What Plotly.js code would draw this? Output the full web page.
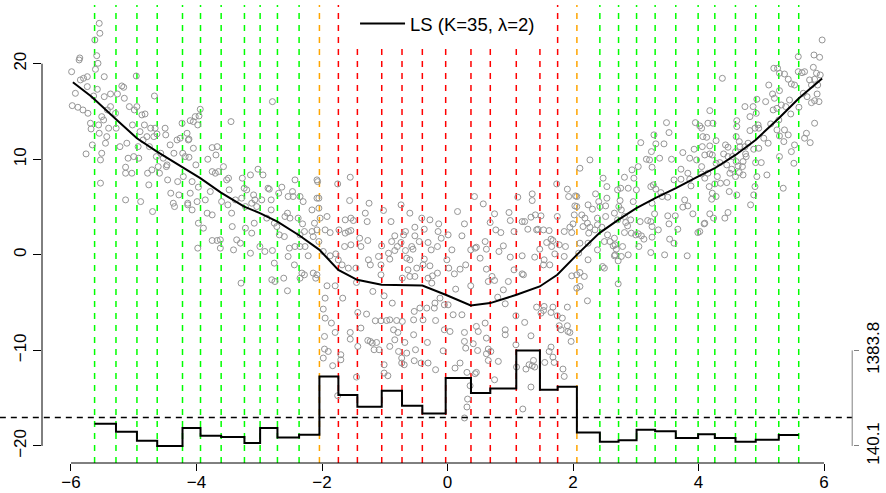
<!DOCTYPE html>
<html><head><meta charset="utf-8">
<script src="https://cdn.plot.ly/plotly-3.0.1.min.js"></script>
<style>html,body{margin:0;padding:0;background:#fff}#chart{width:886px;height:493px}</style>
</head><body><div id="chart"></div>
<script>
// ---- data ----
const scatterLeft = [[-5.99,19.16],[-5.87,20.39],[-5.86,20.6],[-5.98,15.61],[-5.93,16.9],[-5.89,15.44],[-5.85,18.30],[-5.81,15.16],[-5.80,18.47],[-5.76,10.56],[-5.74,17.60],[-5.73,14.81],[-5.74,18.64],[-5.69,13.77],[-5.68,13.17],[-5.66,11.50],[-5.64,16.62],[-5.62,22.48],[-5.61,19.41],[-5.59,20.84],[-5.57,20.04],[-5.58,17.32],[-5.55,24.22],[-5.54,23.18],[-5.56,13.59],[-5.55,12.72],[-5.53,9.93],[-5.53,7.50],[-5.51,14.46],[-5.51,10.63],[-5.47,18.64],[-5.47,16.55],[-5.48,14.11],[-5.45,11.68],[-5.43,12.37],[-5.42,15.16],[-5.40,13.25],[-5.37,16.83],[-5.37,15.51],[-5.29,14.81],[-5.28,13.25],[-5.26,16.83],[-5.22,11.32],[-5.19,17.67],[-5.16,17.53],[-5.15,16.38],[-5.13,9.17],[-5.13,8.54],[-5.13,5.75],[-5.11,11.68],[-5.09,10.11],[-5.07,15.51],[-5.03,8.54],[-5.02,13.59],[-5.00,10.28],[-4.99,15.16],[-4.96,18.71],[-4.95,15.51],[-4.93,11.32],[-4.92,10.11],[-4.90,12.89],[-4.89,5.57],[-4.87,14.64],[-4.85,12.02],[-4.83,13.59],[-4.82,14.74],[-4.79,12.37],[-4.78,8.54],[-4.76,7.32],[-4.75,11.32],[-4.73,13.25],[-4.71,8.89],[-4.70,4.53],[-4.68,12.37],[-4.67,16.62],[-4.66,13.25],[-4.64,10.28],[-4.63,12.65],[-4.61,9.23],[-4.59,8.54],[-4.57,10.63],[-4.53,10.11],[-4.50,13.25],[-4.49,12.55],[-4.48,9.23],[-4.47,9.41],[-4.46,7.84],[-4.42,11.50],[-4.41,6.45],[-4.37,5.40],[-4.35,5.05],[-4.36,10.63],[-4.31,12.02],[-4.30,7.66],[-4.28,6.27],[-4.26,12.20],[-4.23,13.77],[-4.22,10.63],[-4.21,8.19],[-4.18,10.28],[-4.15,12.72],[-4.14,5.40],[-4.13,12.02],
[-3.94,15.23],[-3.96,14.53],[-4.02,14.46],[-3.98,13.59],[-4.10,14.04],[-4.05,13.94],[-4.12,12.10],[-3.45,13.94],[-2.79,16.03],[-4.05,11.15],[-4.12,10.21],[-4.01,9.41],[-3.82,10.0],[-3.75,11.22],[-3.67,11.32],[-3.69,10.45],[-3.57,9.23],[-3.75,8.71],[-3.70,8.54],[-3.65,8.71],[-4.07,7.66],[-3.97,7.08],[-4.10,6.45],[-3.99,5.57],[-4.14,5.23],[-4.07,4.70],[-3.86,5.75],[-3.78,6.62],[-3.83,4.36],[-3.75,4.18],[-3.97,3.31],[-3.89,2.79],[-3.98,0.70],[-3.75,1.50],[-3.67,1.50],[-3.62,1.57],[-3.62,0.70],[-3.52,7.84],[-3.49,8.02],[-3.48,6.80],[-3.60,5.57],[-3.50,5.23],[-3.44,4.36],[-3.38,5.75],[-3.43,2.96],[-3.36,1.57],[-3.30,1.22],[-3.41,0.52],[-3.27,8.02],[-3.28,5.93],[-3.24,6.97],[-3.20,6.80],[-3.22,5.05],[-3.22,2.79],[-3.14,8.36],[-3.02,8.96],[-2.94,8.36],[-3.09,6.27],[-3.07,5.75],[-3.12,5.40],[-3.04,5.05],[-3.08,3.31],[-3.12,2.27],[-3.14,0.17],[-2.99,0.87],[-2.91,0.35],[-2.79,0.45],[-3.29,-2.96],[-2.96,5.75],[-2.86,6.97],[-2.84,6.87],[-2.81,5.75],[-2.81,4.70],[-2.88,3.84],[-2.76,3.31],[-2.69,6.45],[-2.64,7.08],[-2.72,2.96],[-2.80,-2.61],[-2.76,-0.87],[-2.75,-2.79],[-2.68,2.09],[-2.60,1.91],[-2.61,-2.44],[-2.55,-3.76],[-2.54,6.10],[-2.46,6.10],[-2.47,6.62],[-2.43,7.84],[-2.55,4.36],[-2.59,4.01],[-2.51,3.84],[-2.52,0.70],[-2.54,-0.17],[-2.44,-1.05],[-2.43,0.87],[-2.35,6.10],[-2.30,5.57],[-2.38,3.84],[-2.31,3.24],[-2.28,2.44],[-2.35,2.09],[-2.35,0.87],[-2.27,0.87],[-2.32,-1.91],[-2.28,-2.09],[-2.35,-2.44],[-2.22,-0.10],[-2.16,4.70],[-2.12,3.31],[-2.16,2.44],[-2.14,1.91],[-2.08,7.84],[-2.08,5.93],[-2.14,-1.91],[-2.10,-2.44]];

const scatterMid = [[-2.07,7.66],[-2.05,5.93],[-2.05,4.88],[-2.03,3.84],[-1.92,4.01],[-2.08,2.61],[-2.05,1.39],[-1.95,2.61],[-1.87,2.33],[-1.98,0.35],[-1.87,-0.10],[-1.78,0.10],[-1.75,7.42],[-1.55,8.12],[-1.56,5.68],[-1.63,3.66],[-1.54,3.84],[-1.50,3.59],[-1.58,2.44],[-1.54,2.54],[-1.73,2.61],[-1.63,2.27],[-1.64,0.87],[-1.54,1.05],[-1.74,-0.52],[-1.68,-1.05],[-1.58,-1.39],[-1.46,-1.39],[-2.08,-2.09],[-1.92,-3.24],[-1.79,-3.24],[-1.95,-4.53],[-1.98,-5.68],[-1.95,-6.62],[-1.85,-7.14],[-1.96,-8.54],[-1.79,-8.12],[-1.96,-9.86],[-1.90,-10.11],[-1.98,-10.80],[-1.83,-11.60],[-1.70,-10.45],[-1.70,-10.98],[-1.75,-14.74],[-1.45,-2.89],[-1.43,-6.03],[-1.55,-8.12],[-1.55,-8.82],[-1.43,-9.58],[-1.45,-12.79],[-1.67,-4.53],[-1.40,1.74],[-1.38,0.87],[-1.27,1.50],[-1.31,4.36],[-1.25,5.40],[-1.28,3.48],[-1.26,-0.52],[-1.23,-1.05],[-1.19,-3.83],[-1.29,-6.20],[-1.38,-7.66],[-1.27,-8.96],[-1.23,-9.06],[-1.20,-9.23],[-1.13,-9.17],[-1.17,-9.93],[-1.09,-9.93],[-1.15,-6.90],[-1.06,-6.90],[-0.97,-6.87],[-1.10,-0.17],[-1.06,-1.05],[-1.06,-2.09],[-1.05,0.94],[-1.02,4.64],[-0.90,3.48],[-0.94,0.17],[-0.92,-0.45],[-1.01,-4.29],[-0.88,-5.05],[-0.84,1.99],[-0.89,1.39],[-0.80,0.87],[-0.84,0.45],[-0.74,5.23],[-0.67,2.44],[-0.70,2.09],[-0.74,1.29],[-0.67,0.45],[-0.65,-0.35],[-0.60,-0.52],[-0.63,-1.57],[-0.72,-2.44],[-0.60,4.36],[-0.52,2.89],[-0.57,0.87],[-0.55,0.59],[-0.49,-1.39],[-0.60,-2.26],[-0.52,-2.26],[-0.86,-7.84],[-0.79,-8.12],[-0.92,-9.58],[-0.78,-10.11],[-0.73,-10.80],[-0.65,-10.28],[-0.73,-11.32],[-0.69,-11.50],[-1.01,-11.50],[-1.01,-12.37],[-0.95,-12.65],[-0.92,-6.80],[-0.72,-6.97],[-0.54,-6.80],[-0.39,-6.80],[-0.54,-8.36],[-0.51,-9.93],[-0.53,-11.08],[-0.42,-11.32],[-0.32,-9.17],[-0.31,-11.32],[-0.19,-12.02],[-0.07,-10.04],[-0.41,3.84],[-0.37,2.68],[-0.52,1.99],[-0.45,1.39],[-0.28,3.66],[-0.31,1.29],[-0.26,0.52],[-0.37,-0.45],[-0.39,-1.05],[-0.28,-1.15],[-0.31,-2.44],[-0.24,-2.20],[-0.25,-2.96],[-0.16,-1.91],[-0.14,3.24],[-0.15,2.44],[-0.10,1.74],[-0.16,0.87],[-0.20,-5.05],[-0.21,-5.57],[-0.12,-4.53],[-0.05,-5.23],[-0.19,-6.87],[-0.05,-7.84],[-0.33,-5.57],[-0.44,-5.57],[-0.53,-5.92],[-0.81,-6.87],[-0.84,-8.89],[-0.68,-9.17],
[0.01,2.09],[-0.01,-0.52],[0.02,-1.39],[0.07,0.52],[0.11,-1.99],[0.16,4.53],[0.20,-1.50],[0.23,1.99],[0.27,3.24],[0.29,-1.05],[0.13,-3.59],[0.37,-3.24],[0.37,0.52],[0.43,6.10],[0.44,0.70],[0.46,0.80],[0.52,-0.35],[0.57,5.33],[0.60,1.39],[0.62,0.59],[0.62,-1.50],[0.65,-2.79],[0.71,-2.26],[0.75,-2.68],[0.75,4.29],[0.77,2.61],[0.85,2.33],[0.82,0.35],[0.89,0.94],[0.68,3.38],[0.80,-4.43],[0.92,-5.12],[0.89,-3.66],[0.97,-2.79],[1.00,-0.24],[0.98,4.43],[1.00,3.59],[1.06,2.44],[1.06,-1.57],[1.19,-1.99],[1.21,-2.09],[1.19,-0.10],[1.12,6.03],[1.19,3.48],[1.23,3.48],[1.28,2.68],[1.33,3.94],[1.35,6.38],[1.35,5.68],[1.40,4.18],[1.42,2.61],[1.44,2.68],[1.39,-0.24],[1.49,4.08],[1.53,2.61],[1.54,-0.52],[1.47,0.59],[1.53,-1.05],[1.62,2.54],[1.58,1.29],[1.65,1.64],[1.68,1.50],[1.66,0.87],[1.63,-1.05],[1.71,0.10],[1.74,7.42],[1.75,4.01],[1.78,1.05],[1.86,2.44],[1.86,-0.17],[1.91,6.87],[1.93,6.10],[1.95,2.89],[1.98,2.33],[2.00,3.24],[1.98,-2.20],[1.88,0.87],[2.03,5.12],[2.02,4.18],[2.06,-2.09],[2.04,6.17],[2.06,-3.49],[0.01,-5.23],[0.04,-8.02],[0.09,-6.27],[0.23,-6.27],[0.27,-8.12],[0.27,-9.06],[0.29,-9.76],[0.20,-11.32],[0.12,-11.85],[0.31,-12.30],[0.36,-13.70],[0.32,-15.09],[0.31,-15.92],[0.27,-17.07],[0.41,-9.30],[0.46,-7.49],[0.49,-8.02],[0.48,-10.01],[0.46,-12.30],[0.44,-12.44],[0.60,-7.14],[0.62,-8.71],[0.65,-9.86],[0.69,-10.11],[0.62,-10.35],[0.65,-11.05],[0.81,-11.15],[0.75,-13.07],[0.92,-7.84],[0.92,-8.36],[1.09,-6.38],[1.09,-9.41],[1.10,-11.74],[1.20,-16.13],[1.23,-7.07],[1.25,-11.95],[1.33,-8.47],[1.37,-11.05],[1.35,-11.60],[1.39,-11.74],[1.30,-11.50],[1.33,-13.83],[1.42,-5.47],[1.49,-6.10],[1.54,-5.40],[1.53,-5.82],[1.65,-6.03],[1.68,-5.47],[1.65,-9.65],[1.62,-10.11],[1.68,-10.70],[1.70,-11.26],[1.55,-11.26],[1.75,-6.38],[1.78,-7.42],[1.81,-7.84],[1.91,-7.42],[1.83,-6.62],[1.91,-5.47],[1.92,-8.02],[1.95,-8.12],[1.97,-9.06],[1.84,-11.95],[1.86,-12.72]];

const scatterRight = [[2.27,9.93],[2.11,9.06],[2.06,6.10],[2.06,5.05],[2.14,4.18],[2.24,5.23],[2.31,4.78],[2.19,3.84],[2.23,3.31],[2.16,2.96],[2.27,2.89],[2.25,2.27],[2.11,1.22],[2.24,1.22],[2.09,0.17],[2.24,-0.52],[2.11,-1.85],[2.18,-2.26],[2.11,-3.31],[2.23,-4.81],[2.36,6.38],[2.41,5.57],[2.43,5.05],[2.39,3.84],[2.39,3.14],[2.35,2.61],[2.46,2.89],[2.54,5.93],[2.52,5.12],[2.48,8.02],[2.54,7.14],[2.52,4.01],[2.55,2.09],[2.50,1.39],[2.59,1.39],[2.39,0.52],[2.47,-1.22],[2.50,-1.39],[2.66,1.74],[2.64,0.94],[2.67,1.05],[2.69,0.59],[2.66,-0.10],[2.72,-0.63],[2.72,-3.03],[2.66,4.36],[2.71,3.66],[2.73,5.05],[2.77,4.70],[2.71,6.80],[2.75,5.68],[2.76,6.97],[2.82,8.12],[2.88,6.97],[2.82,4.01],[2.84,3.38],[2.82,2.33],[2.87,3.03],[2.92,3.66],[2.93,2.27],[2.88,0],[2.94,8.89],[2.97,8.02],[3.01,6.80],[3.04,9.23],[3.00,2.09],[3.04,2.20],[3.09,1.99],[2.96,5.57],[3.07,3.48],[3.05,0.87],[3.13,1.64],[3.08,11.74],[3.17,10.0],[3.22,9.93],[3.25,10.80],[3.26,9.17],[3.29,12.55],[3.32,11.61],[3.38,10.11],[3.28,7.32],[3.24,7.14],[3.32,6.87],[3.26,5.40],[3.19,3.59],[3.24,3.48],[3.30,4.29],[3.26,2.96],[3.36,2.61],[3.26,1.85],[3.24,0.24],[3.46,0],[3.45,11.61],[3.49,13.83],[3.53,12.79],[3.40,6.51],[3.42,6.10],[3.51,6.03],[3.51,4.08],[3.57,10.0],[3.61,7.84],[3.72,8.96],[3.75,10.70],[3.72,7.91],[3.53,3.24],[3.54,1.64],[3.61,1.22],[3.67,2.68],[3.63,4.08],[3.75,4.99],[3.78,5.75],[3.83,8.54],[3.86,7.91],[3.88,7.21],[3.82,-0.10],[3.83,5.12],[3.91,4.29],[3.86,10.11],[3.93,11.05],[3.97,9.93],[3.95,13.83],[4.02,13.49],[4.07,12.37],[3.99,2.33],[4.09,3.24],[4.05,8.47],[2.67,0.0],[2.77,-0.17],[2.79,0.87],
[5.97,22.48],[5.84,20.91],[5.93,20.67],[5.59,20.74],[5.59,19.16],[5.69,19.16],[5.83,19.62],[5.88,19.0],[5.94,18.82],[5.77,18.30],[5.85,18.37],[5.80,17.77],[5.90,17.77],[5.89,16.83],[5.92,16.03],[5.80,15.92],[5.85,16.13],[5.73,16.55],[5.85,13.77],[5.67,16.90],[5.60,15.44],[5.53,17.77],[5.48,17.88],[5.43,18.37],[5.37,18.92],[5.26,19.52],[5.20,19.52],[5.29,19.0],[5.29,17.18],[5.45,16.20],[5.39,15.51],[5.32,15.68],[5.25,15.33],[5.21,16.38],[5.18,16.83],[5.12,17.77],[5.07,16.03],[5.19,15.16],[5.47,14.74],[5.28,14.11],[5.15,13.70],[5.25,13.07],[5.43,12.55],[5.37,13.07],[5.29,12.44],[5.36,11.85],[5.53,11.50],[5.48,10.80],[5.52,9.58],[5.29,10.28],[5.35,6.97],[5.72,12.72],[5.69,12.20],[5.78,11.74],[4.95,13.59],[4.87,15.51],[4.74,15.51],[4.82,14.46],[4.92,14.81],[4.90,13.25],[4.96,13.25],[4.93,16.28],[5.11,11.68],[5.04,12.20],[4.96,11.15],[5.00,9.65],[5.09,8.36],[4.91,9.65],[4.93,8.19],[4.90,7.14],[4.88,6.27],[4.83,5.23],[4.79,11.68],[4.74,11.32],[4.76,10.28],[4.71,9.76],[4.88,11.05],[4.82,13.0],[4.61,14.04],[4.61,13.42],[4.60,12.37],[4.65,11.85],[4.66,11.32],[4.59,10.80],[4.75,10.56],[4.54,10.28],[4.60,9.76],[4.63,9.30],[4.70,9.23],[4.65,8.61],[4.71,8.36],[4.59,8.19],[4.61,6.27],[4.47,4.43],[4.42,3.84],[4.38,18.47],[4.47,11.26],[4.43,11.50],[4.47,10.28],[4.40,10.56],[4.34,9.65],[4.45,9.41],[4.53,8.96],[4.50,8.54],[4.45,7.56],[4.35,7.49],[4.49,6.62],[4.28,9.58],[4.18,10.56],[4.10,10.45],[4.22,10.45],[4.06,11.32],[4.18,11.40],[4.28,11.95],[4.13,12.30],[4.05,13.25],[4.15,13.77],[4.23,13.77],[4.18,15.09],[4.05,9.23],[4.10,8.02],[4.15,8.54],[4.17,7.14],[4.30,8.19],[4.26,7.42],[4.22,6.45],[4.28,6.10],[4.21,5.82],[4.18,4.29],[4.24,3.84],[4.10,3.31],[4.02,2.44],[5.65,19.06]];

const curveX = [-5.97,-5.67,-5.27,-4.95,-4.63,-4.21,-3.94,-3.61,-3.24,-2.99,-2.71,-2.36,-2.04,-1.74,-1.44,-1.05,-0.72,-0.40,-0.03,0.37,0.68,1.10,1.47,1.75,2.06,2.42,2.72,3.01,3.31,3.64,3.99,4.26,4.59,4.91,5.28,5.60,5.97];
const curveY = [18.06,16.55,14.11,12.19,10.80,9.06,8.02,6.51,5.05,4.36,3.48,2.02,0.52,-1.57,-2.61,-3.14,-3.14,-3.21,-4.18,-5.30,-5.05,-4.18,-3.31,-2.09,0.0,2.27,3.66,4.88,5.93,6.97,8.19,9.06,10.45,12.02,14.29,16.38,18.46];

const knots = [-5.624,-5.283,-4.949,-4.626,-4.223,-3.936,-3.607,-3.236,-2.986,-2.710,-2.365,-2.041,-1.739,-1.436,-1.048,-0.725,-0.401,-0.029,0.374,0.682,1.096,1.473,1.755,2.062,2.428,2.726,3.013,3.309,3.638,3.994,4.260,4.589,4.912,5.279,5.597];
const knotGroup = ['out','out','out','out','out','out','out','out','out','out','out','edge','in','in','in','in','in','in','in','in','in','in','in','edge','out','out','out','out','out','out','out','out','out','out','out'];
const stepValues = [429.9,326.7,208.5,140.1,373.9,274.4,257.0,178.7,373.9,252.0,286.9,1045.5,803.0,651.3,859.0,663.7,564.2,1024.4,829.1,888.8,1383.8,872.6,911.2,316.7,196.1,213.5,351.5,330.4,243.3,291.8,243.3,196.1,222.2,283.1];
const threshold = 512;
const rightTicks = [140.1, 1383.8];
const rightTickText = ['140.1', '1383.8'];
const legendLabel = 'LS (K=35, \u03bb=2)';

// ---- drawing ----
const FONT = 'Liberation Sans, Arial, Helvetica, sans-serif';
const allPts = scatterLeft.concat(scatterMid, scatterRight);
const yRange = [-21.78, 26.14];
const xRange = [-6.462, 6.462];
// right axis: 140.1 sits at y=-20 and 1383.8 at y=-10
const k2 = (rightTicks[1] - rightTicks[0]) / 10;
const y2Range = yRange.map(v => rightTicks[0] + (v + 20) * k2);
const groupColor = {out: '#00ff00', edge: '#FFA500', in: '#FF0000'};

const traces = [
  {x: allPts.map(p => p[0]), y: allPts.map(p => p[1]), type: 'scatter', mode: 'markers',
   marker: {symbol: 'circle-open', size: 6, color: '#959595', line: {width: 1}},
   showlegend: false, hoverinfo: 'skip'},
  {x: curveX, y: curveY, type: 'scatter', mode: 'lines', name: legendLabel,
   line: {color: '#000', width: 2}, showlegend: true},
  {x: knots, y: stepValues.concat([stepValues[stepValues.length - 1]]), yaxis: 'y2',
   type: 'scatter', mode: 'lines', line: {color: '#000', width: 2, shape: 'hv'}, showlegend: false}
];

const shapes = [];
knots.forEach((k, i) => shapes.push({type: 'line', xref: 'x', yref: 'paper', x0: k, x1: k, y0: 0, y1: 1,
  layer: 'below', line: {color: groupColor[knotGroup[i]], width: 1.5, dash: '6px,6px'}}));
// white legend background
shapes.push({type: 'rect', xref: 'paper', yref: 'paper', x0: 0.378, x1: 0.624, y0: 0.915, y1: 1.01,
  layer: 'below', fillcolor: '#fff', line: {width: 0}});
// threshold
shapes.push({type: 'line', xref: 'paper', yref: 'y2', x0: -0.052, x1: 0.999, y0: threshold, y1: threshold,
  line: {color: '#000', width: 1.5, dash: '6px,5px'}});
// R-style axis lines
shapes.push({type: 'line', xref: 'x', yref: 'paper', x0: -6, x1: 6, y0: 0, y1: 0, line: {color: '#000', width: 1}});
shapes.push({type: 'line', xref: 'paper', yref: 'y', x0: 0, x1: 0, y0: -20, y1: 20, line: {color: '#000', width: 1}});
shapes.push({type: 'line', xref: 'paper', yref: 'y2', x0: 0.999, x1: 0.999, y0: rightTicks[0], y1: rightTicks[1], line: {color: '#808080', width: 1}});

const layout = {
  width: 886, height: 493,
  margin: {l: 42, r: 33, t: 5, b: 30},
  paper_bgcolor: '#fff', plot_bgcolor: '#fff',
  font: {family: FONT, size: 17, color: '#000'},
  showlegend: true,
  legend: {x: 0.386, y: 1, xanchor: 'left', yanchor: 'top', bgcolor: 'rgba(0,0,0,0)', itemwidth: 45,
           font: {family: FONT, size: 18.5, color: '#000'}},
  xaxis: {range: xRange, showgrid: false, zeroline: false, showline: false,
          tickvals: [-6, -4, -2, 0, 2, 4, 6], ticks: 'outside', ticklen: 7, tickcolor: '#000',
          ticklabelstandoff: -3, tickfont: {size: 17}, automargin: false},
  yaxis: {range: yRange, showgrid: false, zeroline: false, showline: false,
          tickvals: [-20, -10, 0, 10, 20], ticks: 'outside', ticklen: 8, tickcolor: '#000',
          tickangle: -90, tickfont: {size: 17}, automargin: false},
  yaxis2: {range: y2Range, overlaying: 'y', side: 'right', showgrid: false, zeroline: false, showline: false,
           tickvals: rightTicks, ticktext: rightTickText, ticks: 'outside', ticklen: 5, tickcolor: '#808080',
           tickangle: -90, tickfont: {size: 17}, automargin: false},
  shapes: shapes
};

Plotly.newPlot('chart', traces, layout, {displayModeBar: false, staticPlot: true});
</script>
</body></html>
